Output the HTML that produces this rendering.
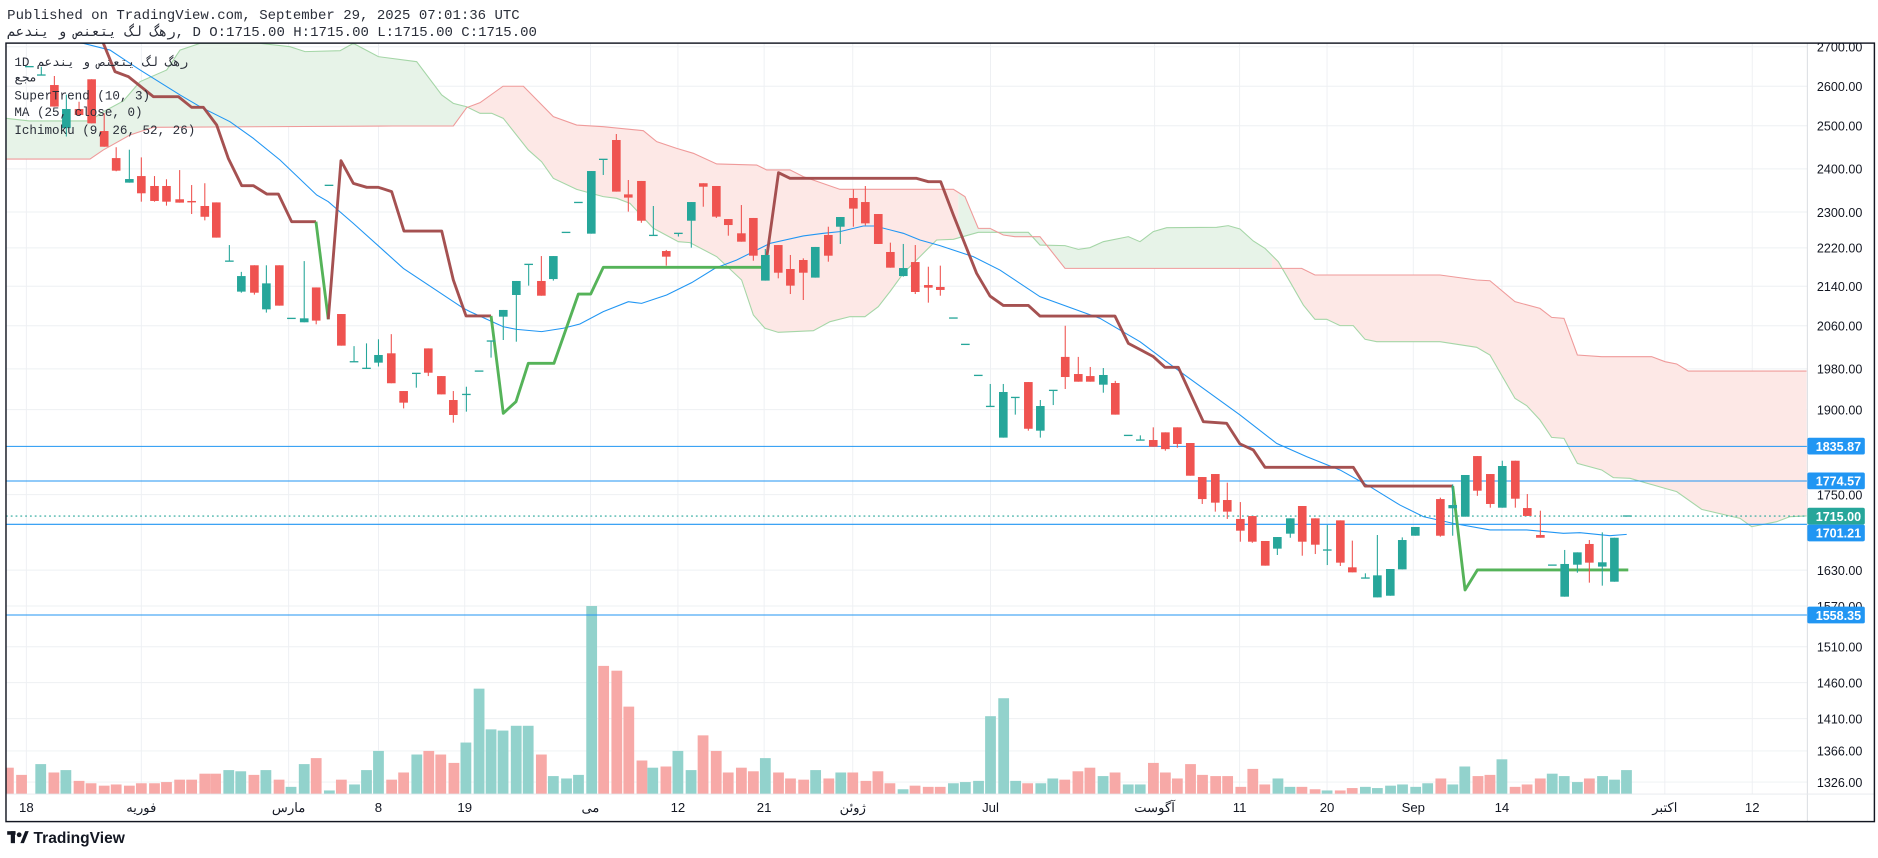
<!DOCTYPE html>
<html><head><meta charset="utf-8">
<style>
html,body{margin:0;padding:0;background:#fff;}
svg{display:block;}
text{font-family:"Liberation Sans","Noto Sans CJK SC",sans-serif;}
.mono, .mono text{font-family:"Liberation Mono","DejaVu Sans Mono",monospace;}
</style></head>
<body>
<svg id="s" width="1878" height="858" viewBox="0 0 1568 716.4" preserveAspectRatio="none" xmlns="http://www.w3.org/2000/svg">
<defs>
<clipPath id="cc"><rect x="5" y="36" width="1504" height="627"/></clipPath>
<clipPath id="gclip"><rect x="0" y="0" width="391" height="700"/><rect x="800" y="0" width="262" height="700"/></clipPath>
<clipPath id="rclip"><rect x="391" y="0" width="409" height="700"/><rect x="1062" y="0" width="460" height="700"/></clipPath>
</defs>
<rect x="0" y="0" width="1568" height="716.4" fill="#fff"/>
<text class="mono" x="6" y="16" font-size="11.7" fill="#2a2e39">Published on TradingView.com, September 29, 2025 07:01:36 UTC</text>
<text class="mono" x="6" y="30" font-size="11.7" fill="#2a2e39">رهگ لگ یتعنص و یندعم, D O:1715.00 H:1715.00 L:1715.00 C:1715.00</text>

<g id="grid" stroke="#eef0f3" stroke-width="0.8"></g>

<g clip-path="url(#cc)">
 <g id="cloud"></g>
 <g id="vol"></g>
 <polyline id="ma" fill="none" stroke="#2196f3" stroke-width="0.9"/>
 <g id="hl"></g>
 <g id="st" fill="none" stroke-width="2.4" stroke-linejoin="round"></g>
 <g id="cdl"></g>
</g>

<line x1="1509" y1="36" x2="1509" y2="686" stroke="#d8dbe0" stroke-width="0.8"/>
<line x1="5" y1="663" x2="1565" y2="663" stroke="#e6e8ec" stroke-width="0.8"/>
<rect x="5" y="36" width="1560" height="650" fill="none" stroke="#131722" stroke-width="1.2"/>

<g font-size="10.5" fill="#131722" id="pl">
<text x="1517" y="43">2700.00</text>
<text x="1517" y="76">2600.00</text>
<text x="1517" y="109">2500.00</text>
<text x="1517" y="145">2400.00</text>
<text x="1517" y="181">2300.00</text>
<text x="1517" y="211">2220.00</text>
<text x="1517" y="243">2140.00</text>
<text x="1517" y="276">2060.00</text>
<text x="1517" y="312">1980.00</text>
<text x="1517" y="346">1900.00</text>
<text x="1517" y="417">1750.00</text>
<text x="1517" y="480">1630.00</text>
<text x="1517" y="510">1570.00</text>
<text x="1517" y="544">1510.00</text>
<text x="1517" y="574">1460.00</text>
<text x="1517" y="604">1410.00</text>
<text x="1517" y="631">1366.00</text>
<text x="1517" y="657">1326.00</text>
</g>
<g font-size="10.5" fill="#fff" font-weight="bold">
<rect x="1509" y="365.5" width="48" height="14" rx="1.5" fill="#2196f3"/><text x="1516" y="376.5">1835.87</text>
<rect x="1509" y="394.5" width="48" height="14" rx="1.5" fill="#2196f3"/><text x="1516" y="405.5">1774.57</text>
<rect x="1509" y="424" width="48" height="14" rx="1.5" fill="#26a69a"/><text x="1516" y="435">1715.00</text>
<rect x="1509" y="438" width="48" height="14" rx="1.5" fill="#2196f3"/><text x="1516" y="449">1701.21</text>
<rect x="1509" y="506.5" width="48" height="14" rx="1.5" fill="#2196f3"/><text x="1516" y="517.5">1558.35</text>
</g>

<g font-size="11" fill="#131722" text-anchor="middle">
<text x="22" y="678">18</text>
<text x="118" y="678">فوريه</text>
<text x="241" y="678">مارس</text>
<text x="316" y="678">8</text>
<text x="388" y="678">19</text>
<text x="493" y="678">مى</text>
<text x="566" y="678">12</text>
<text x="638" y="678">21</text>
<text x="712" y="678">ژوئن</text>
<text x="827" y="678">Jul</text>
<text x="964" y="678">آگوست</text>
<text x="1035" y="678">11</text>
<text x="1108" y="678">20</text>
<text x="1180" y="678">Sep</text>
<text x="1254" y="678">14</text>
<text x="1390" y="678">اكتبر</text>
<text x="1463" y="678">12</text>
</g>

<g font-size="10.5" fill="#2a2e39">
<text class="mono" x="12" y="55">1D  رهگ لگ یتعنص و یندعم</text>
<text class="mono" x="12" y="68">مجع</text>
<text class="mono" x="12" y="83">SuperTrend (10, 3)</text>
<text class="mono" x="12" y="97">MA (25, close, 0)</text>
<text class="mono" x="12" y="112">Ichimoku (9, 26, 52, 26)</text>
</g>

<g fill="#131722">
<rect x="6" y="694" width="7" height="3"/><rect x="9" y="694" width="3.5" height="10"/>
<circle cx="16" cy="697" r="2"/>
<polygon points="17,704 21,694 24,694 20,704"/>
<text x="28" y="704" font-size="13" font-weight="bold">TradingView</text>
</g>
</svg>
<script>
var NS="http://www.w3.org/2000/svg";
function el(p,t,a){var e=document.createElementNS(NS,t);for(var k in a)e.setAttribute(k,a[k]);p.appendChild(e);return e;}
var g=document.getElementById('grid');
[39,72,105,141,177,207,239,272,308,342,413,476,506,540,570,600,627,653].forEach(function(y){el(g,'line',{x1:5,x2:1509,y1:y,y2:y});});
[22,118,241,316,388,493,566,638,712,827,964,1035,1108,1180,1254,1390,1463].forEach(function(x){el(g,'line',{x1:x,x2:x,y1:36,y2:663});});
function pts(a){return a.map(function(p){return p[0]+','+p[1]}).join(' ');}
var A=[[5,98.8],[24.5,101],[75.1,101],[86.3,93.3],[103,84.3],[116.9,68.2],[139.2,58.4],[150.3,41.8],[167,36.2],[217.1,36.2],[242.1,39],[254.7,43.1],[283.9,42.3],[295,36.2],[315.9,47.3],[347.9,51.5],[368.8,79.3],[378.5,86.3],[389.6,89.1],[400.8,94.6],[410.5,94.6],[420.2,98.8],[441.1,125.2],[452.2,135],[462,148.9],[481.5,158.1],[503.7,164.2],[514.9,165.6],[526,169.8],[545.5,190.6],[566.4,201.8],[576.1,202.6],[598.4,214.3],[619.2,233.8],[629,263],[638.7,274.1],[649.8,277.5],[679.1,276.1],[693,268.6],[709.7,264.4],[722.2,264.4],[733.3,256.1],[743.1,243.5],[754.2,228.2],[782,200.4],[796,199.8],[816.8,194],[858.6,194],[868.3,204.6],[889.2,205.1],[900.3,208.2],[910,206.8],[921.2,201.8],[942.1,197.6],[951.8,201.8],[962.9,193.4],[974.1,190.1],[1015.8,189.8],[1025.5,188.4],[1035.3,191.2],[1046.4,201.2],[1056.2,207.4],[1067.3,218.5],[1077,235.2],[1088.2,254.7],[1097.9,266.6],[1107.7,266.6],[1118.8,271.9],[1129.9,271.9],[1139.7,283.3],[1149.4,285.3],[1202.3,285.3],[1232.9,290],[1244,296.4],[1264.9,332.6],[1274.7,338.7],[1285.8,350.7],[1295.5,365.2],[1305.8,366],[1317,386.9],[1337.3,392.4],[1347,398.8],[1361,399.4],[1390.2,407.8],[1399.9,410.5],[1420.8,425.3],[1452.8,432.8],[1462.5,439.8],[1483.4,435.6],[1494.5,431.4],[1508.4,430.8]];
var B=[[5,132.8],[75.1,132.8],[86.3,125.2],[108.5,112.7],[128,106.3],[328.4,105.2],[378.5,105.2],[389.6,89.9],[400.8,85.7],[420,72],[437,72],[462,97.4],[481.5,104.4],[503.7,105.8],[537.1,109.1],[548.3,118.3],[565,123.9],[578.9,128],[598.4,136.9],[631.8,137.8],[640.1,141.9],[659.6,141.9],[670.7,147.5],[701.3,158.1],[796,158.1],[805.7,164.2],[816.8,190.7],[826.6,190.7],[837.7,196.2],[847.4,197.6],[868.3,197.6],[889.2,224.1],[1086.8,224.1],[1097.9,229.6],[1202.3,229.6],[1232.9,233.8],[1244,234.4],[1264.9,251.9],[1285.8,257.5],[1295.5,265],[1305.8,265.8],[1317,296.4],[1337.3,297.8],[1379,297.8],[1390.2,302],[1399.9,303.9],[1409.6,309.8],[1508.4,309.8]];
var cl=document.getElementById('cloud');
var poly=pts(A)+' '+pts(B.slice().reverse());
el(cl,'polygon',{points:poly,fill:'#e7f3e8','clip-path':'url(#gclip)'});
el(cl,'polygon',{points:poly,fill:'#fde8e6','clip-path':'url(#rclip)'});
el(cl,'polyline',{points:pts(A),fill:'none',stroke:'#a5d6a7','stroke-width':0.9});
el(cl,'polyline',{points:pts(B),fill:'none',stroke:'#ef9a9a','stroke-width':0.9});
var V=[[7,641,'r'],[18,647,'r'],[34,638,'g'],[45,645,'r'],[55,643,'g'],[66,652,'r'],[76,654,'r'],[87,656,'r'],[97,655,'r'],[108,656,'r'],[118,654,'r'],[129,654,'r'],[139,653,'r'],[150,651,'r'],[160,651,'r'],[171,646,'r'],[180,646,'r'],[191,643,'g'],[201,644,'g'],[212,647,'r'],[222,643,'g'],[233,651,'r'],[243,657,'g'],[254,638,'g'],[264,633,'r'],[275,660,'g'],[285,651,'r'],[296,655,'g'],[306,643,'g'],[316,627,'g'],[327,651,'r'],[337,645,'r'],[348,630,'g'],[358,627,'r'],[368,630,'r'],[379,637,'r'],[389,620,'g'],[400,575,'g'],[410,609,'g'],[420,610,'g'],[431,606,'g'],[441,606,'g'],[452,630,'r'],[462,648,'g'],[473,650,'g'],[483,647,'g'],[494,506,'g'],[504,556,'r'],[515,560,'r'],[525,590,'r'],[536,635,'r'],[545,641,'g'],[556,640,'r'],[566,627,'g'],[577,643,'g'],[587,614,'r'],[598,627,'r'],[608,645,'r'],[619,641,'r'],[629,644,'r'],[639,633,'g'],[650,645,'r'],[660,650,'r'],[671,651,'r'],[681,643,'g'],[692,650,'r'],[702,645,'g'],[712,645,'r'],[723,652,'r'],[733,644,'r'],[743,654,'r'],[754,659,'g'],[764,656,'r'],[775,657,'r'],[785,657,'r'],[796,654,'g'],[806,653,'g'],[817,652,'g'],[827,598,'g'],[838,583,'g'],[848,652,'g'],[858,654,'r'],[869,654,'g'],[879,650,'g'],[889,651,'r'],[900,644,'r'],[910,641,'r'],[921,648,'g'],[931,645,'r'],[942,655,'g'],[952,655,'g'],[963,637,'r'],[973,645,'r'],[983,650,'r'],[994,638,'r'],[1004,647,'r'],[1015,648,'r'],[1025,648,'r'],[1036,657,'r'],[1046,642,'r'],[1056,655,'r'],[1067,650,'g'],[1077,657,'g'],[1087,657,'r'],[1098,659,'r'],[1108,660,'g'],[1119,660,'r'],[1129,658,'r'],[1140,657,'g'],[1150,658,'g'],[1161,656,'g'],[1171,655,'g'],[1182,657,'g'],[1192,654,'g'],[1203,650,'r'],[1213,655,'g'],[1223,640,'g'],[1234,648,'r'],[1244,647,'r'],[1254,634,'g'],[1265,657,'r'],[1275,655,'r'],[1286,650,'r'],[1296,646,'g'],[1306,648,'g'],[1317,653,'g'],[1327,650,'r'],[1338,648,'g'],[1348,651,'g'],[1358,643,'g']];
var vg=document.getElementById('vol');
V.forEach(function(v){el(vg,'rect',{x:v[0]-4.5,y:v[1],width:9,height:663-v[1],fill:v[2]=='g'?'#92d2cc':'#f7a9a7'});});
document.getElementById('ma').setAttribute('points',pts([[5,30],[69.6,36.2],[91.8,41.8],[116.9,58.4],[150.3,79.3],[167,89.1],[192,101.6],[211.5,115.5],[233.8,133.6],[264.4,162.8],[274.1,168.4],[295,186.5],[322.8,211.5],[336.8,224.1],[361.8,240.7],[386.9,257.4],[392.4,260.2],[420.2,272.8],[431.4,275],[452.2,276.9],[470.3,274.1],[484.2,270.5],[503.7,260.2],[524.6,251.9],[535.7,253.3],[556.6,246.3],[577.5,236],[597,224],[615.1,217.1],[642.9,203.2],[670.7,197],[687.4,194.8],[701.3,193.4],[720.8,188.7],[730.5,188.7],[754.2,194.8],[768.1,200.4],[784.8,205.1],[812.6,214.3],[834.9,225.5],[868.3,247.7],[918.4,265.8],[951.8,285.3],[979.6,306.2],[1035.3,346.5],[1065.9,370.2],[1090.9,381.3],[1118.8,392.4],[1143.9,406.4],[1168.9,421.7],[1188.4,431.4],[1213.4,437],[1244,442.5],[1274.7,442.5],[1305.3,445.3],[1319.2,444.8],[1344.2,447.3],[1358.2,446.2]]));
var hl=document.getElementById('hl');
[372.7,401.6,437.8,513.5].forEach(function(y){el(hl,'line',{x1:5,x2:1509,y1:y,y2:y,stroke:'#2196f3','stroke-width':0.9});});
el(hl,'line',{x1:5,x2:1509,y1:430.9,y2:430.9,stroke:'#26a69a','stroke-width':0.9,'stroke-dasharray':'1.5,2.5'});
var st=document.getElementById('st');
var R='#a04848',G='#4caf50';
function pl(c,a){el(st,'polyline',{points:pts(a),stroke:c,'stroke-opacity':0.95});}
pl(R,[[80,25],[86.3,36.2],[96,59.8],[107.2,64],[128,80.7],[148.9,80.7],[160,89.6],[169.8,89.6],[180.9,104.4],[190.6,132.2],[201.8,155],[211.5,155],[222.7,162],[232.4,162],[243.5,185.1],[263.8,185.1]]);
pl(G,[[263.8,185.1],[274.1,266.6]]);
pl(R,[[274.1,266.6],[284.7,134.2],[295,153.1],[306.2,156.4],[315.9,156.4],[327,160],[337.3,192.9],[368.8,192.9],[378.5,233.8],[389.1,263.8],[410,263.8]]);
pl(G,[[410,263.8],[420.2,345.1],[430.8,335.4],[441.1,303.4],[462.5,303.4],[482.9,245.5],[493.2,245.5],[503.7,223.2],[639,223.2]]);
pl(R,[[639,223.2],[650,144.2],[659.6,148.9],[765.3,148.9],[775.1,151.7],[785.4,151.7],[796,179.5],[815.4,228.2],[826.6,247.2],[837.7,255],[858.6,255],[868.3,263.9],[930.9,263.9],[942.1,286.7],[963,297.8],[972.7,306.7],[983.8,306.7],[1004.7,352.1],[1024.2,353.5],[1035.3,370.7],[1046.4,375.7],[1056.2,390.2],[1129.9,390.2],[1139.7,405.8],[1212.9,405.8]]);
pl(G,[[1212.9,405.8],[1223.2,492.6],[1233.5,475.9],[1359.5,475.9]]);
var C=[[24.5,55.6,55.6,55.6,55.6,'g'],[34.5,62.6,62.6,55.7,62.6,'g'],[45.4,71,89,63.5,89,'r'],[55.4,91,107,79,114,'g'],[66,91,96,85,96,'r'],[76.5,66.2,103,66.2,103,'r'],[87,109.4,122.5,94.6,122.5,'r'],[97,132,142.5,123,143,'r'],[108,149.5,152.5,125,152.5,'g'],[118,147,161.4,131.4,168.4,'r'],[129,155.3,167.8,147,168.4,'r'],[139,155.3,168.4,149.7,171.7,'r'],[150,166.4,169.2,142,169.2,'r'],[160,167.8,169,154.5,178.7,'r'],[171,172,181,153,184,'r'],[180.6,169,198.4,169,198.4,'r'],[191.5,218,218,204.6,218,'g'],[201.5,230.5,243.5,227,244.4,'g'],[212.4,221.5,244.4,221.5,246,'r'],[222.4,236.6,258.3,221.5,261,'g'],[233.2,221.5,255.2,221.5,255.2,'r'],[243.3,265.8,265.8,265.8,265.8,'g'],[254,265.8,269.1,218,269.1,'g'],[264,240,267.7,240,270.8,'r'],[274.7,154.7,154.7,154.7,154.7,'g'],[285,262.2,288.6,262.2,288.6,'r'],[295.6,302,302,289,302,'g'],[306,307.5,307.5,286.7,307.5,'g'],[316,296.4,302.8,283.3,306,'g'],[326.7,295,320,279,320,'r'],[337,326.5,336.2,326.5,341,'r'],[347.6,311.7,311.7,311.7,323.7,'g'],[357.6,290.9,311.2,290.9,314,'r'],[368.5,314,329.3,314,329.3,'r'],[378.5,334,346.5,326.5,352.9,'r'],[389.4,329.3,329.3,322.9,343.7,'g'],[400,309.8,309.8,309.8,309.8,'g'],[410,284.7,284.7,284.7,298.6,'g'],[420.2,258.8,264.4,258.8,283.9,'g'],[431.1,234.6,246.3,234.6,285.3,'g'],[441.4,220.7,220.7,220.7,238.5,'g'],[452,234.6,246.9,213.8,246.9,'r'],[462,213.8,233,213.8,234.3,'g'],[472.6,194,194,194,194,'g'],[482.9,169,169,169,169,'g'],[493.7,142.8,195.1,142.8,195.1,'g'],[503.7,133,133,133,146.1,'g'],[514.6,116.9,160,111.9,160,'r'],[524.6,162.3,165,150.3,176.7,'r'],[535.5,151.1,184.3,151.1,186,'r'],[545.5,196.5,196.5,172,196.5,'g'],[556.3,209.6,214.3,208.7,221.8,'r'],[566.4,194.8,194.8,194.8,197.5,'g'],[577.2,168.7,184.3,168.7,206.8,'g'],[587.2,153,155.9,153,172.6,'r'],[598.1,155.3,180.9,155.3,182,'r'],[608.1,182.9,187.9,182.9,196.8,'r'],[619,194.8,201.8,171.2,201.8,'r'],[629,182,213.5,182,217.7,'r'],[639,212.9,234.3,207.9,234.3,'g'],[649.8,204.6,227.7,204.6,232.4,'r'],[659.9,224.6,238.5,212.9,245.5,'r'],[670.7,217.1,227.7,215.7,250.5,'r'],[680.7,206.2,231.8,206.2,231.8,'g'],[691.6,196.2,213.5,189.3,218.5,'r'],[701.6,181.2,189.3,181.2,203.7,'g'],[712.5,165.3,174.2,158.1,189.3,'r'],[722.5,168.7,186.5,155.3,188.2,'r'],[733.3,178.7,203.7,178.7,203.7,'r'],[743.4,210.4,223.5,202.6,223.5,'r'],[754.2,223.8,230.5,203.7,231,'g'],[764.2,218.8,243.8,204.6,245.5,'r'],[775.1,238,240.2,222.7,252.7,'r'],[785.1,239.6,242.1,221.8,246.9,'r'],[796,265.5,265.5,265.5,265.5,'g'],[806,287.5,287.5,287.5,287.5,'g'],[816.8,313.4,313.4,313.4,313.4,'g'],[826.8,339.3,339.3,320.6,339.3,'g'],[837.7,327.3,365.4,320.6,365.4,'g'],[847.7,331.8,331.8,331.8,346.2,'g'],[858.6,319,358,319,359.6,'r'],[868.6,339,359.6,334,365.4,'g'],[879.4,325.9,325.9,325.9,338.2,'g'],[889.4,298,314.8,272,324.8,'r'],[900.3,312.3,318.7,298,318.7,'r'],[910.3,314,318.7,306.4,318.7,'r'],[921.2,313.1,321.2,307.3,327.9,'g'],[931.2,319.8,346.2,318,346.2,'r'],[942,363.5,363.5,363.5,363.5,'g'],[952.1,367.4,367.4,363.5,367.4,'g'],[962.9,367.4,373,356.8,373,'r'],[973,361,375,361,376.3,'r'],[983,356.8,370.7,356.8,373.8,'r'],[993.8,369.9,397.2,369.9,397.2,'r'],[1003.8,398.3,416.7,398.3,420.8,'r'],[1014.7,395.8,419.7,395.8,427.2,'r'],[1024.7,417.5,427.2,403,433.3,'r'],[1035.6,433.3,443.1,419.2,452.3,'r'],[1045.6,430.9,452.3,430.9,453.2,'r'],[1056.4,451.7,472.3,451.7,472.3,'r'],[1066.5,448.4,458.1,448.4,463.4,'g'],[1077.3,432.8,445.6,432.8,449,'g'],[1087.3,422.5,452.3,422.5,464,'r'],[1098.2,432.8,454.8,432.8,462.6,'r'],[1108.2,459.2,459.2,438.4,471.8,'g'],[1119.1,434.5,469.8,434.5,472.6,'r'],[1129.1,473.7,477.9,451.4,477.9,'r'],[1140,482.6,482.6,478.7,482.6,'g'],[1150,480.4,498.8,446.7,498.8,'g'],[1160.8,475.1,497.4,475.1,497.4,'g'],[1170.8,450.9,475.4,448.7,475.4,'g'],[1181.7,440,447.3,440,447.3,'g'],[1202.6,416.7,447.3,415.5,448.1,'r'],[1212.9,421.7,424.4,404.4,447.3,'g'],[1223.4,396.6,431.4,396.6,431.4,'g'],[1233.5,380.8,409.7,380.8,414,'r'],[1244.3,395.8,420.8,395.8,423.9,'r'],[1254.3,389.1,423.9,384.7,423.9,'g'],[1265.2,384.7,416.4,384.7,423.9,'r'],[1275.2,424.2,430.8,412.5,430.8,'r'],[1286.1,446.7,449,426.4,449,'r'],[1296.1,471.8,471.8,471.8,471.8,'g'],[1306.4,470.9,498.2,459.2,498.2,'g'],[1317,461.2,471.5,461.2,478.2,'g'],[1327,454.2,469.8,450.9,486.5,'r'],[1337.8,469.5,473.1,444.5,489,'g'],[1347.9,449,485.7,449,485.7,'g'],[1358.7,430.8,430.8,430.8,430.8,'g']];
var cg=document.getElementById('cdl');
C.forEach(function(c){var col=c[5]=='g'?'#26a69a':'#ef5350';
 if(c[4]>c[3])el(cg,'line',{x1:c[0],x2:c[0],y1:c[3],y2:c[4],stroke:col,'stroke-width':0.9});
 var h=Math.max(c[2]-c[1],1.1);
 el(cg,'rect',{x:c[0]-3.6,y:c[1]-(c[2]==c[1]?0.5:0),width:7.2,height:h,fill:col});
});
</script>
</body></html>
